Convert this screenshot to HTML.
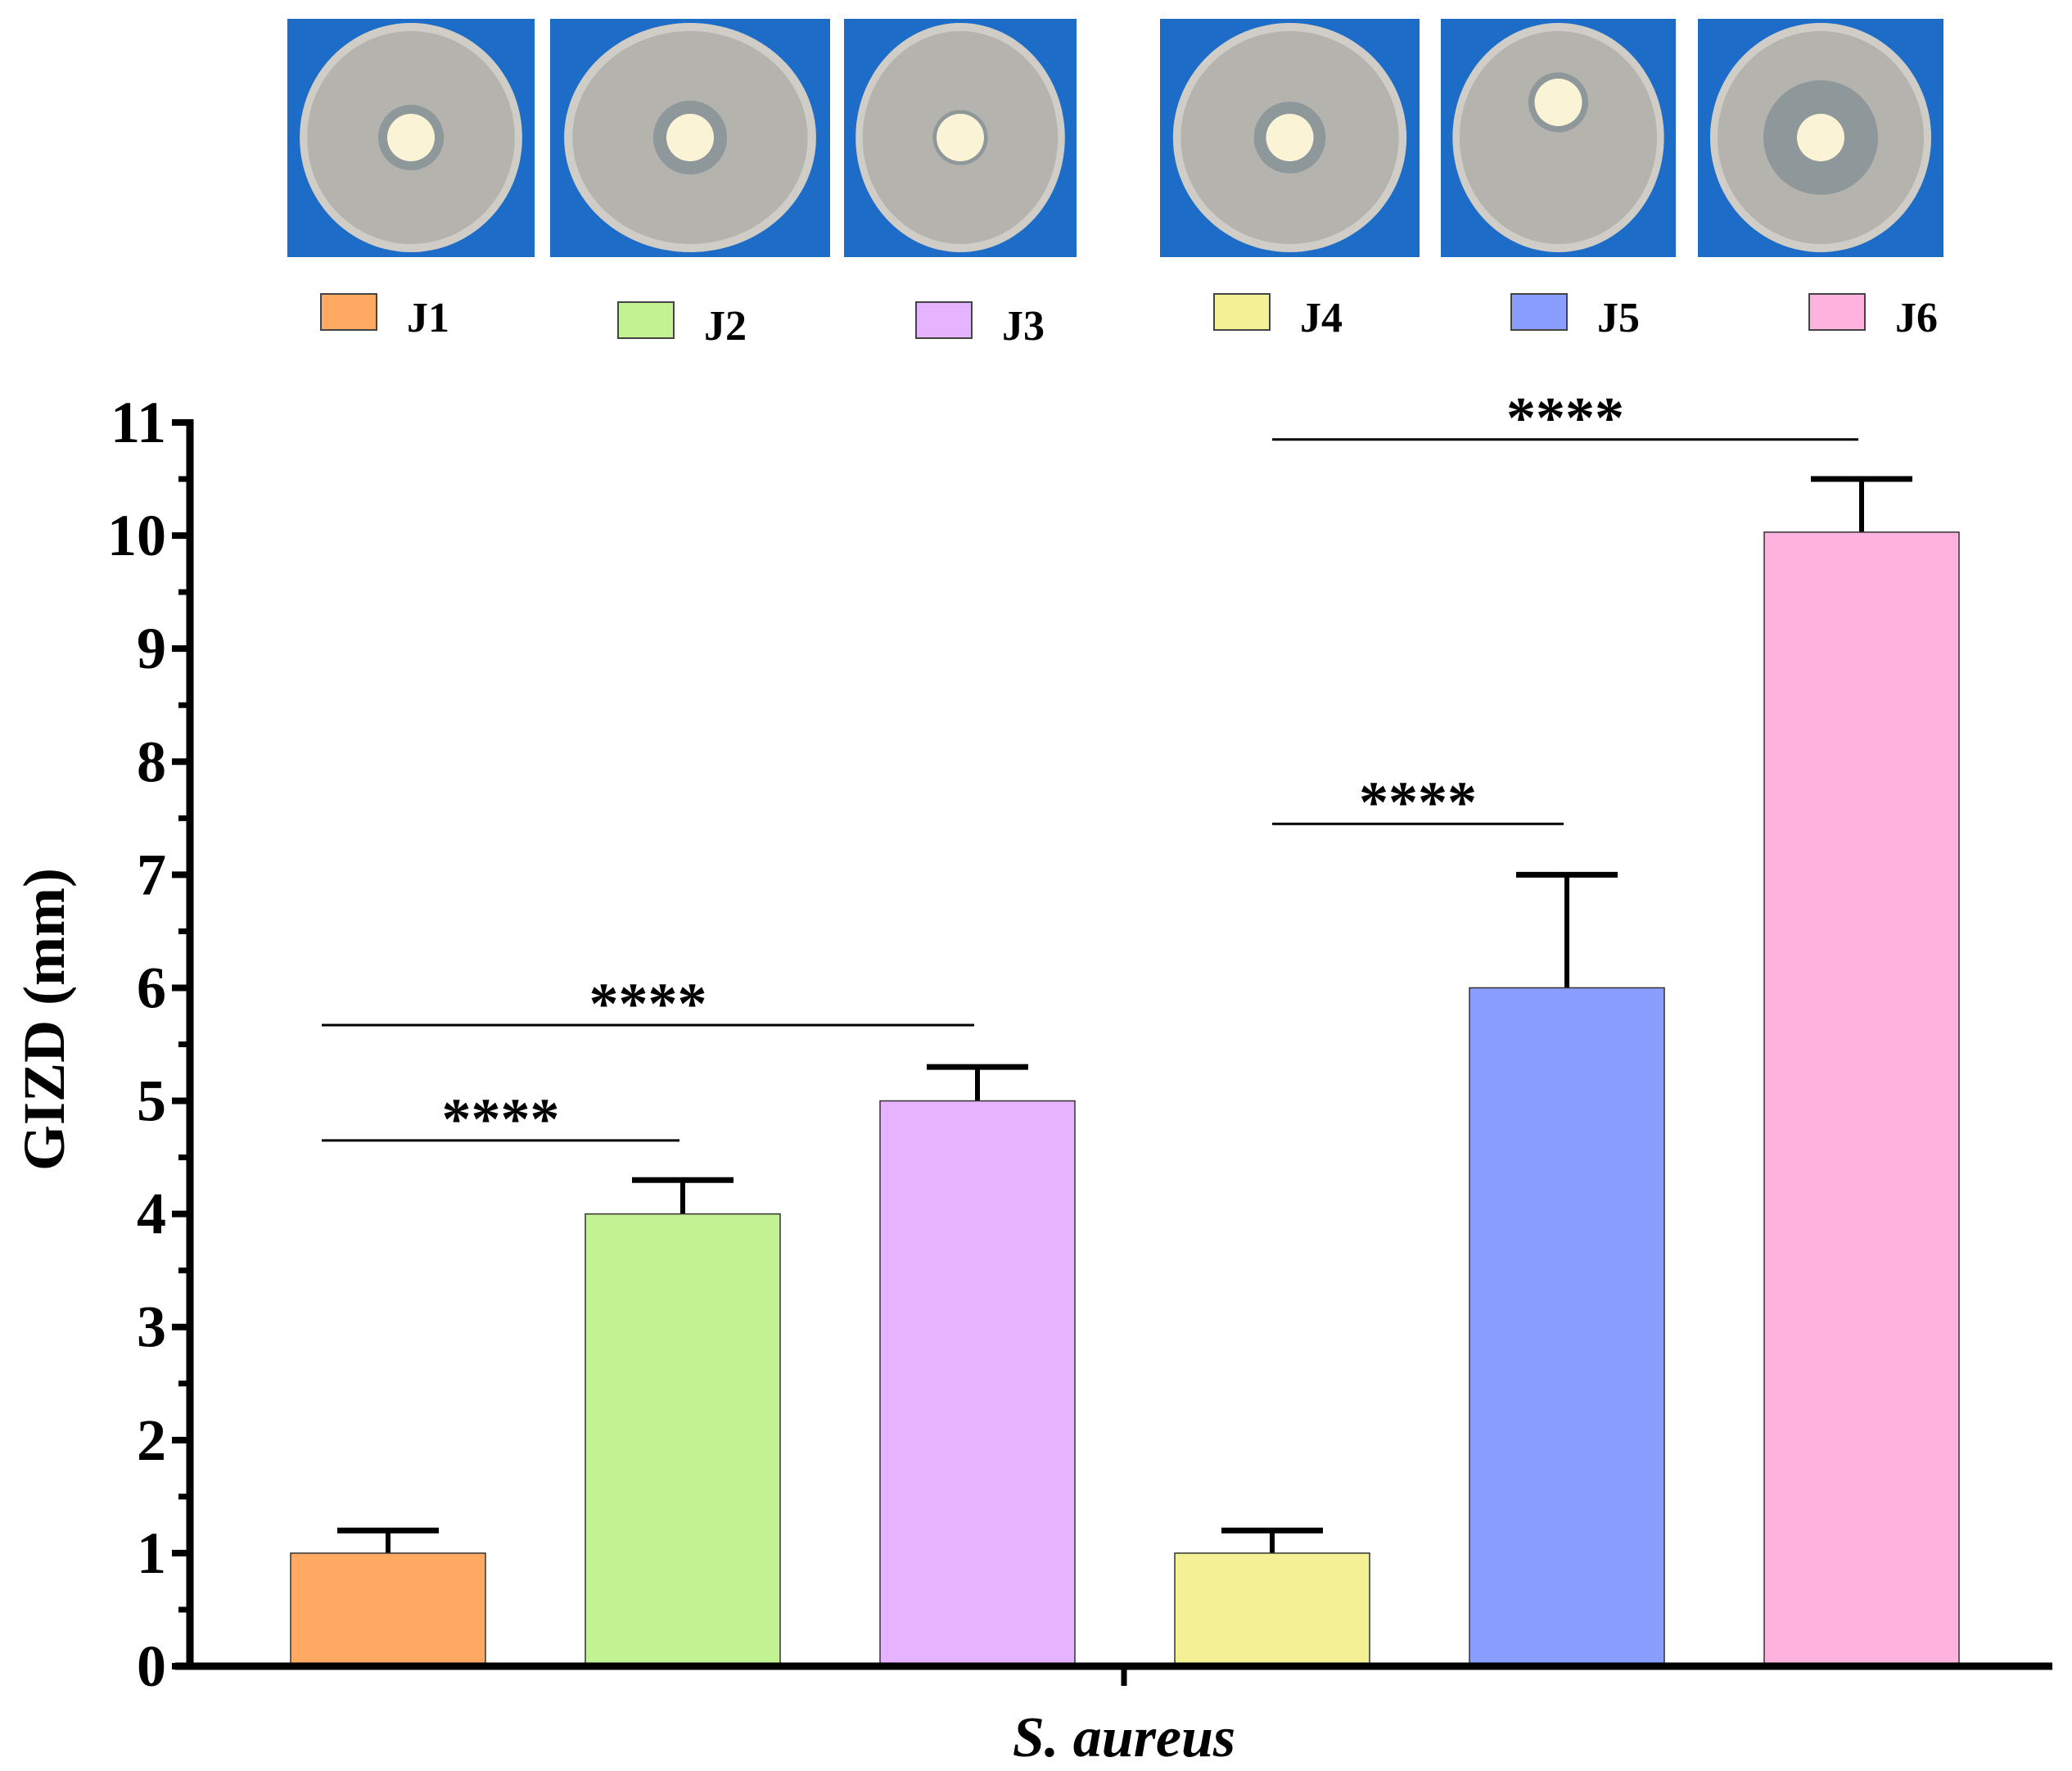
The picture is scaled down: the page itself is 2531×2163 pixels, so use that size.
<!DOCTYPE html>
<html><head><meta charset="utf-8"><style>
html,body{margin:0;padding:0;background:#fff;}
svg{display:block;}
text{font-family:"Liberation Serif",serif;}
</style></head><body>
<svg id="chart" width="2531" height="2163" viewBox="0 0 2531 2163" xmlns="http://www.w3.org/2000/svg">
  <g id="photos"></g>
  <g id="legend"></g>
  <g id="plot"></g>
  <text transform="translate(78,1245) rotate(-90)" text-anchor="middle" font-size="72" font-weight="bold">GIZD (mm)</text>
  <text x="1373" y="2145" text-anchor="middle" font-size="70" font-style="italic" font-weight="bold">S. aureus</text>
</svg>
<script>
const categories = ["J1","J2","J3","J4","J5","J6"];
const values = [1, 4, 5, 1, 6, 10.03];
const errors = [0.2, 0.3, 0.3, 0.2, 1.0, 0.47];
const colors = ["#FFA963","#C2F291","#E5B3FF","#F4F095","#8A9EFF","#FFB3DE"];
const yTicks = [0,1,2,3,4,5,6,7,8,9,10,11];
const sigFrom = [0, 0, 3, 3];
const sigTo = [1, 2, 4, 5];
const sigLevel = [4.65, 5.67, 7.45, 10.85];
const sigLabels = ["****","****","****","****"];

const NS = "http://www.w3.org/2000/svg";
const X0 = 232, Y0 = 2035, YTOP = 516, XEND = 2507;
const yMax = 11;
function yScale(v){ return Y0 - v/yMax*(Y0-YTOP); }
const firstCenter = 474, step = 360, barW = 238;
function xCenter(i){ return firstCenter + i*step; }
function mk(tag, attrs, parent){ const e=document.createElementNS(NS,tag); for(const k in attrs) e.setAttribute(k,attrs[k]); parent.appendChild(e); return e; }

const plot = document.getElementById('plot');
categories.forEach((c,i)=>{
  const cx = xCenter(i), top = yScale(values[i]), et = yScale(values[i]+errors[i]);
  const eb = mk('line',{x1:cx,x2:cx,y1:top,y2:et,stroke:'#000','stroke-width':6},plot);
  
  
  const cap = mk('line',{x1:cx-62,x2:cx+62,y1:et,y2:et,stroke:'#000','stroke-width':7},plot);
  
  
  const r = mk('rect',{x:cx-barW/2,y:top,width:barW,height:Y0-top,fill:colors[i],stroke:'#333','stroke-width':1.5},plot);
  
  
});
const ya = mk('line',{x1:X0,x2:X0,y1:YTOP-4,y2:Y0+4,stroke:'#000','stroke-width':9},plot);


yTicks.forEach(t=>{
  const y=yScale(t);
  const tk = mk('line',{x1:X0-22,x2:X0,y1:y,y2:y,stroke:'#000','stroke-width':8},plot);
  
  
  const lb = mk('text',{x:203,y:y+24,'text-anchor':'end','font-size':72,'font-weight':'bold'},plot);
  lb.textContent = t;
  
  
  if(t<yMax){
    const ym=yScale(t+0.5);
    const mt = mk('line',{x1:X0-14,x2:X0,y1:ym,y2:ym,stroke:'#000','stroke-width':7},plot);
    
    
  }
});
const xa = mk('line',{x1:X0-18,x2:XEND,y1:Y0,y2:Y0,stroke:'#000','stroke-width':9},plot);


const xt = mk('line',{x1:1373,x2:1373,y1:Y0,y2:Y0+24,stroke:'#000','stroke-width':7},plot);


sigLevel.forEach((lv,k)=>{
  const x1 = xCenter(sigFrom[k]) - (sigFrom[k]===0 ? 81 : 0), x2 = xCenter(sigTo[k]) - 4;
  const y = yScale(lv);
  const l = mk('line',{x1:x1,x2:x2,y1:y,y2:y,stroke:'#000','stroke-width':3},plot);
  
  
  const t = mk('text',{x:(x1+x2)/2,y:y-2,'text-anchor':'middle','font-size':72,'font-weight':'bold','font-family':'Liberation Sans, sans-serif'},plot);
  t.textContent = sigLabels[k];
  
  
});
const photos = document.getElementById('photos');
const px = [[351,653],[672,1014],[1031,1315],[1417,1734],[1760,2047],[2074,2374]];
const halo = [0.04,0.05,0.02,0.05,0.03,0.14];
px.forEach((p,i)=>{
  const g = mk('g',{},photos);
  
  
  const w=p[1]-p[0], cx=(p[0]+p[1])/2, cy=168;
  mk('rect',{x:p[0],y:23,width:w,height:291,fill:'#1d6cc8'},g);
  mk('ellipse',{cx:cx,cy:cy,rx:w*0.45,ry:140,fill:'#cfcdc6'},g);
  mk('ellipse',{cx:cx,cy:cy,rx:w*0.42,ry:130,fill:'#b4b3ad'},g);
  mk('circle',{cx:cx,cy:i==4?125:cy,r:w*halo[i]+28,fill:'#8e989b'},g);
  mk('circle',{cx:cx,cy:i==4?125:cy,r:29,fill:'#fbf3d6'},g);
});
const legend = document.getElementById('legend');
const lgX = [392,755,1119,1483,1846,2210];
const lgY = [359,369,369,359,359,359];
categories.forEach((c,i)=>{
  const g = mk('g',{},legend);
  
  
  mk('rect',{x:lgX[i],y:lgY[i],width:68,height:44,fill:colors[i],stroke:'#444','stroke-width':2},g);
  const t = mk('text',{x:lgX[i]+105,y:lgY[i]+46,'font-size':52,'font-weight':'bold'},g);
  t.textContent = c;
});
</script>
</body></html>
